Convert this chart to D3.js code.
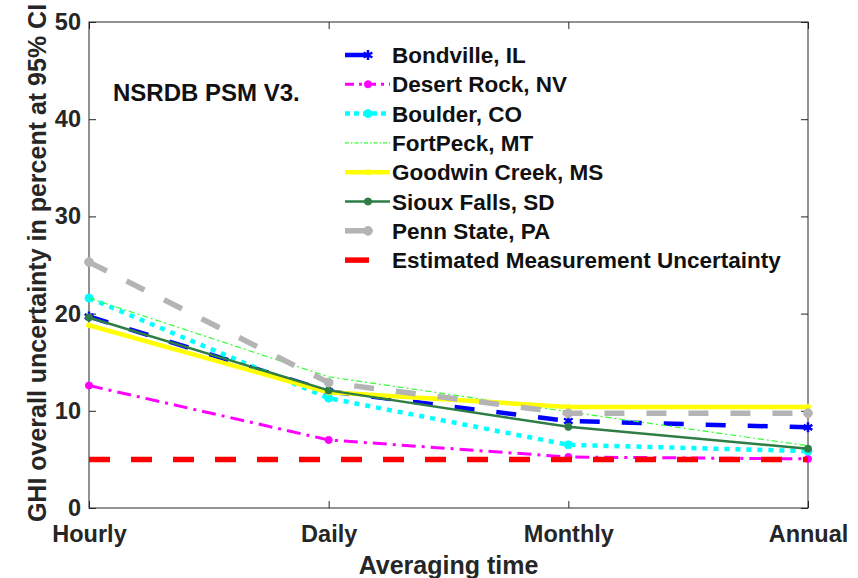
<!DOCTYPE html>
<html><head><meta charset="utf-8">
<script src="https://cdn.jsdelivr.net/npm/d3@7"></script>
<style>body{margin:0;background:#fff;} svg{display:block;font-family:"Liberation Sans",Arial,sans-serif;}</style>
</head><body>
<svg id="c" width="858" height="578"></svg>
<script>
const categories = ["Hourly","Daily","Monthly","Annual"];
const yTicks = [0,10,20,30,40,50];
const seriesNames = ["Bondville, IL","Desert Rock, NV","Boulder, CO","FortPeck, MT","Goodwin Creek, MS","Sioux Falls, SD","Penn State, PA","Estimated Measurement Uncertainty"];
const bondville   = [19.7, 12.0, 8.95, 8.3];
const desertRock  = [12.6, 7.0, 5.25, 5.05];
const boulder     = [21.6, 11.3, 6.5, 5.85];
const fortPeck    = [21.6, 13.5, 9.9, 6.4];
const goodwin     = [18.8, 11.9, 10.4, 10.4];
const siouxFalls  = [19.6, 12.1, 8.35, 6.1];
const pennState   = [25.3, 12.9, 9.75, 9.75];
const measUnc     = [5, 5, 5, 5];

const styles = [
  {data: bondville,  color:"#0000ff", w:4.5, dash:"20,22", marker:d3.symbolAsterisk, ms:70, short:true},
  {data: desertRock, color:"#ff00ff", w:3, dash:"14,6,3,6", marker:d3.symbolCircle, ms:40, ldash:"9,5,3,5"},
  {data: boulder,    color:"#00ffff", w:4.5, dash:"5,6", marker:d3.symbolCircle, ms:50, ldash:"5,4"},
  {data: fortPeck,   color:"#33ff33", w:1.2, dash:"6,3,2,3", marker:null, ldash:"4,2,1.5,2"},
  {data: goodwin,    color:"#ffff00", w:4.5, dash:null, marker:d3.symbolCircle, ms:20},
  {data: siouxFalls, color:"#2e7d45", w:2.5, dash:null, marker:d3.symbolCircle, ms:40},
  {data: pennState,  color:"#b4b4b4", w:5.5, dash:"20,22", marker:d3.symbolCircle, ms:60, short:true},
  {data: measUnc,    color:"#ff0000", w:5.5, dash:"21,21", marker:null, short:true}
];

const svg = d3.select("#c");
const L=89,R=808,T=22,B=508;
const x = d3.scalePoint().domain(categories).range([L,R]);
const y = d3.scaleLinear().domain([0,50]).range([B,T]);

const axisColor="#262626";
svg.append("rect").attr("x",L).attr("y",T).attr("width",R-L).attr("height",B-T)
  .attr("fill","none").attr("stroke",axisColor).attr("stroke-width",1);

const tickFont = "bold 23.5px 'Liberation Sans', Arial, sans-serif";
const labelFont = "bold 25px 'Liberation Sans', Arial, sans-serif";
const gx = svg.append("g").attr("transform",`translate(0,${B})`)
  .call(d3.axisBottom(x).tickSize(-7).tickPadding(17));
const gxt = svg.append("g").attr("transform",`translate(0,${T})`)
  .call(d3.axisTop(x).tickSize(-7).tickFormat(""));
const gy = svg.append("g").attr("transform",`translate(${L},0)`)
  .call(d3.axisLeft(y).tickValues(yTicks).tickSize(-7).tickPadding(8));
const gyr = svg.append("g").attr("transform",`translate(${R},0)`)
  .call(d3.axisRight(y).tickValues(yTicks).tickSize(-7).tickFormat(""));
[gx,gxt,gy,gyr].forEach(g=>{
  g.select(".domain").remove();
  g.selectAll("line").attr("stroke",axisColor);
  g.selectAll("text").attr("fill","#262626").style("font",tickFont);
});

const line = d3.line().x((d,i)=>x(categories[i])).y(d=>y(d));
styles.forEach(s=>{
  svg.append("path").attr("d",line(s.data)).attr("fill","none")
    .attr("stroke",s.color).attr("stroke-width",s.w)
    .attr("stroke-dasharray",s.dash).attr("stroke-linejoin","round");
  if(s.marker){
    s.data.forEach((v,i)=>{
      svg.append("path").attr("d",d3.symbol(s.marker,s.ms)())
        .attr("transform",`translate(${x(categories[i])},${y(v)})`)
        .attr("fill",s.color).attr("stroke",s.color).attr("stroke-width",s.marker===d3.symbolAsterisk?2.5:1);
    });
  }
});

// legend
const lg = svg.append("g");
const legY0=55, legDy=29.3, lx0=345, lx1=390, tx=392;
styles.forEach((s,i)=>{
  const yy = legY0 + i*legDy;
  const x1 = s.short ? 369 : lx1;
  lg.append("line").attr("x1",lx0).attr("x2",x1).attr("y1",yy).attr("y2",yy)
    .attr("stroke",s.color).attr("stroke-width",s.w)
    .attr("stroke-dasharray", s.ldash || null);
  if(s.marker){
    lg.append("path").attr("d",d3.symbol(s.marker,s.ms)())
      .attr("transform",`translate(${368},${yy})`)
      .attr("fill",s.color).attr("stroke",s.color).attr("stroke-width",s.marker===d3.symbolAsterisk?2.5:1);
  }
  lg.append("text").attr("x",tx).attr("y",yy).attr("dy","0.36em")
    .style("font","bold 22.5px 'Liberation Sans', Arial, sans-serif").attr("fill","#111")
    .text(seriesNames[i]);
});

svg.append("text").attr("x",113).attr("y",101)
  .style("font","bold 24px 'Liberation Sans', Arial, sans-serif").attr("fill","#111")
  .text("NSRDB PSM V3.");

svg.append("text").attr("x",(L+R)/2).attr("y",574).attr("text-anchor","middle")
  .style("font",labelFont).attr("fill","#262626").text("Averaging time");
svg.append("text").attr("transform",`translate(46,263) rotate(-90)`)
  .attr("text-anchor","middle")
  .style("font",labelFont).attr("fill","#262626").text("GHI overall uncertainty in percent at 95% CI");
</script>
</body></html>
